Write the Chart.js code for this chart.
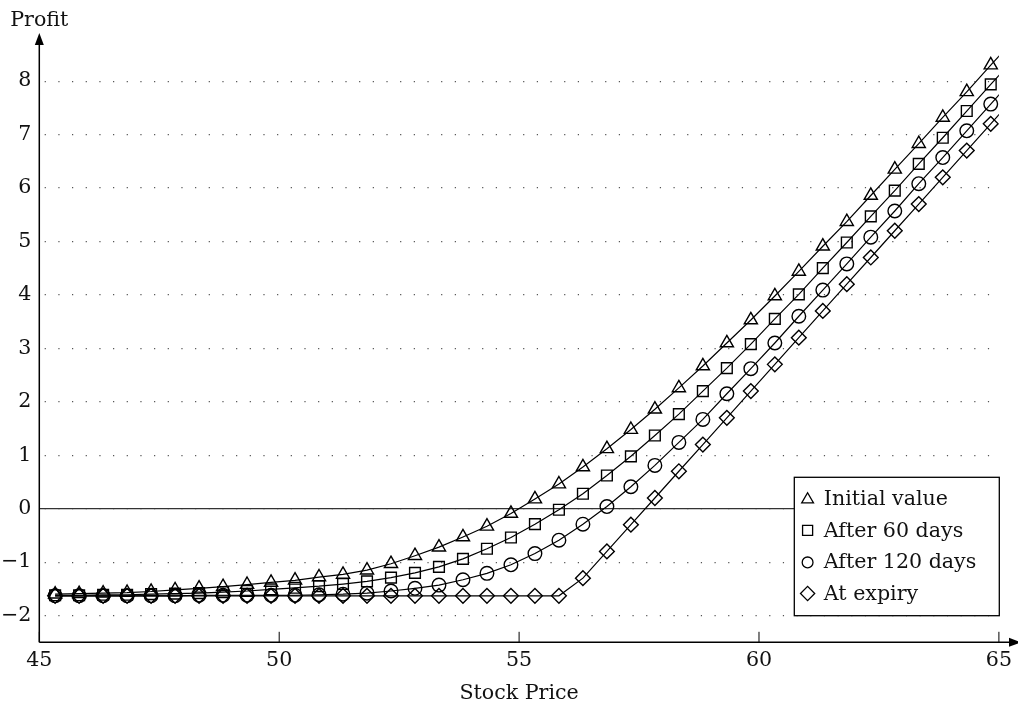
<!DOCTYPE html>
<html><head><meta charset="utf-8">
<script src="https://cdn.jsdelivr.net/npm/chart.js@4/dist/chart.umd.min.js"></script>
<style>html,body{margin:0;padding:0;background:#fff}#wrap{width:1018px;height:708px;position:relative}</style>
</head><body><div id="wrap"><canvas id="c" width="1018" height="708"></canvas></div>
<script>
// ---- data ----
const stockPrice = [45.33,45.83,46.33,46.83,47.33,47.83,48.33,48.83,49.33,49.83,
  50.33,50.83,51.33,51.83,52.33,52.83,53.33,53.83,54.33,54.83,
  55.33,55.83,56.33,56.83,57.33,57.83,58.33,58.83,59.33,59.83,
  60.33,60.83,61.33,61.83,62.33,62.83,63.33,63.83,64.33,64.83,65.33];
const initialValue = [-1.60,-1.59,-1.58,-1.57,-1.55,-1.52,-1.49,-1.46,-1.42,-1.38,
  -1.34,-1.28,-1.23,-1.15,-1.03,-0.88,-0.72,-0.53,-0.33,-0.09,
  0.18,0.46,0.78,1.12,1.48,1.86,2.26,2.67,3.10,3.53,
  3.98,4.44,4.91,5.37,5.86,6.35,6.83,7.32,7.80,8.30,8.79];
const after60Days = [-1.62,-1.62,-1.61,-1.61,-1.60,-1.59,-1.58,-1.56,-1.54,-1.51,
  -1.48,-1.45,-1.41,-1.36,-1.29,-1.20,-1.09,-0.94,-0.75,-0.54,
  -0.29,-0.02,0.28,0.62,0.98,1.37,1.77,2.20,2.63,3.08,
  3.55,4.01,4.50,4.98,5.47,5.95,6.45,6.94,7.44,7.94,8.43];
const after120Days = [-1.63,-1.63,-1.63,-1.63,-1.63,-1.63,-1.62,-1.62,-1.62,-1.62,
  -1.62,-1.61,-1.60,-1.58,-1.54,-1.49,-1.43,-1.33,-1.21,-1.05,
  -0.84,-0.59,-0.29,0.04,0.41,0.81,1.24,1.67,2.15,2.62,
  3.10,3.60,4.09,4.58,5.08,5.57,6.08,6.57,7.07,7.57,8.07];
const atExpiry = [-1.63,-1.63,-1.63,-1.63,-1.63,-1.63,-1.63,-1.63,-1.63,-1.63,
  -1.63,-1.63,-1.63,-1.63,-1.63,-1.63,-1.63,-1.63,-1.63,-1.63,
  -1.63,-1.63,-1.30,-0.80,-0.30,0.20,0.70,1.20,1.70,2.20,
  2.70,3.20,3.70,4.20,4.70,5.20,5.70,6.20,6.70,7.20,7.70];
const seriesLabels = ['Initial value','After 60 days','After 120 days','At expiry'];
const seriesStyles = ['triangle','rect','circle','rectRot'];
const xTickValues = [45,50,55,60,65];
const yTickValues = [-2,-1,0,1,2,3,4,5,6,7,8];
const xTitle = 'Stock Price';
const yTitle = 'Profit';

// ---- chart ----
const FONT = 'DejaVu Serif';
const FSIZE = 20.6;
Chart.defaults.font.family = FONT;
Chart.defaults.font.size = FSIZE;
Chart.defaults.color = '#111';

const seriesValues = [initialValue, after60Days, after120Days, atExpiry];
const pointRadii = [7.6, 7.6, 6.8, 7.4];
const datasets = seriesValues.map((vals, i) => ({
  label: seriesLabels[i],
  data: stockPrice.map((x, j) => ({x: x, y: vals[j]})),
  borderColor: '#000',
  borderWidth: 1.2,
  backgroundColor: 'rgba(0,0,0,0)',
  pointStyle: seriesStyles[i],
  pointRadius: pointRadii[i],
  pointBorderWidth: 1.4,
  pointBorderColor: '#000',
  pointBackgroundColor: 'rgba(0,0,0,0)',
  tension: 0,
  clip: 0
}));

const zeroLinePlugin = {
  id: 'zeroLine',
  beforeDatasetsDraw(chart) {
    const {ctx, chartArea} = chart;
    const y = chart.scales.y.getPixelForValue(0);
    ctx.save();
    ctx.strokeStyle = '#333';
    ctx.lineWidth = 1.3;
    ctx.beginPath();
    ctx.moveTo(chartArea.left, y);
    ctx.lineTo(chartArea.right, y);
    ctx.stroke();
    ctx.restore();
  }
};

const axesPlugin = {
  id: 'axesArrows',
  afterDatasetsDraw(chart) {
    const {ctx, chartArea} = chart;
    const xs = chart.scales.x;
    const x0 = chartArea.left, y0 = chartArea.bottom;
    ctx.save();
    ctx.strokeStyle = '#000';
    ctx.fillStyle = '#000';
    ctx.lineWidth = 1.5;
    ctx.beginPath();
    ctx.moveTo(x0, y0);
    ctx.lineTo(x0, chartArea.top + 10);
    ctx.stroke();
    ctx.beginPath();
    ctx.moveTo(x0, chartArea.top);
    ctx.lineTo(x0 - 4.5, chartArea.top + 12);
    ctx.lineTo(x0 + 4.5, chartArea.top + 12);
    ctx.closePath();
    ctx.fill();
    const xEnd = chart.width + 3;
    ctx.beginPath();
    ctx.moveTo(x0, y0);
    ctx.lineTo(xEnd - 10, y0);
    ctx.stroke();
    ctx.beginPath();
    ctx.moveTo(xEnd, y0);
    ctx.lineTo(xEnd - 12, y0 - 4.5);
    ctx.lineTo(xEnd - 12, y0 + 4.5);
    ctx.closePath();
    ctx.fill();
    ctx.lineWidth = 1;
    xs.ticks.forEach(t => {
      const px = xs.getPixelForValue(t.value);
      ctx.beginPath();
      ctx.moveTo(px, y0);
      ctx.lineTo(px, y0 - 10.5);
      ctx.stroke();
    });
    ctx.restore();
  }
};

function drawMarker(ctx, style, r, x, y) {
  if (Chart.helpers && Chart.helpers.drawPoint) {
    Chart.helpers.drawPoint(ctx, {pointStyle: style, radius: r, borderWidth: 1.1, rotation: 0}, x, y);
    return;
  }
  ctx.beginPath();
  ctx.arc(x, y, r, 0, Math.PI * 2);
  ctx.stroke();
}

const legendPlugin = {
  id: 'boxLegend',
  afterDraw(chart) {
    const {ctx} = chart;
    const bx = 794.3, by = 477.3, bw = 205, bh = 138.4;
    ctx.save();
    ctx.fillStyle = '#fff';
    ctx.fillRect(bx, by, bw, bh);
    ctx.strokeStyle = '#000';
    ctx.lineWidth = 1.3;
    ctx.strokeRect(bx, by, bw, bh);
    const markerR = [6.8, 7.1, 5.4, 7.1];
    const markerDy = [-5.5, -6.3, -6.0, -6.6];
    ctx.font = FSIZE + 'px "' + FONT + '"';
    ctx.textBaseline = 'alphabetic';
    ctx.textAlign = 'left';
    chart.data.datasets.forEach((ds, i) => {
      const base = by + 27.7 + i * 31.7;
      ctx.strokeStyle = '#000';
      ctx.fillStyle = 'rgba(0,0,0,0)';
      drawMarker(ctx, ds.pointStyle, markerR[i], bx + 13.3, base + markerDy[i]);
      ctx.fillStyle = '#111';
      ctx.fillText(ds.label, bx + 29.5, base);
    });
    ctx.textAlign = 'center';
    ctx.fillText(yTitle, chart.chartArea.left, 26);
    ctx.restore();
  }
};

new Chart(document.getElementById('c'), {
  type: 'line',
  data: {datasets},
  options: {
    responsive: false,
    animation: false,
    layout: {padding: {left: 0, right: 18.7, top: 33, bottom: 0}},
    plugins: {legend: {display: false}, tooltip: {enabled: false}},
    scales: {
      x: {
        type: 'linear',
        min: 45, max: 65,
        afterFit: s => { s.height = 65.7; },
        afterBuildTicks: s => { s.ticks = xTickValues.map(v => ({value: v})); },
        ticks: {padding: 6, color: '#111', font: {size: FSIZE, family: FONT}},
        grid: {display: false, drawTicks: false},
        border: {display: false},
        title: {display: true, text: xTitle, color: '#111', font: {size: FSIZE, family: FONT}, padding: {top: 0, bottom: 2}}
      },
      y: {
        type: 'linear',
        min: -2.5, max: 8.9,
        afterFit: s => { s.width = 39.3; },
        afterBuildTicks: s => { s.ticks = yTickValues.map(v => ({value: v})); },
        ticks: {padding: 8, color: '#111', font: {size: FSIZE, family: FONT},
          callback: v => (v < 0 ? '\u2212' + Math.abs(v) : String(v))},
        grid: {display: true, drawTicks: false, color: '#555', lineWidth: 1.2},
        border: {display: false, dash: [1.2, 12.47], dashOffset: 8}
      }
    }
  },
  plugins: [zeroLinePlugin, axesPlugin, legendPlugin]
});
</script>
</body></html>
